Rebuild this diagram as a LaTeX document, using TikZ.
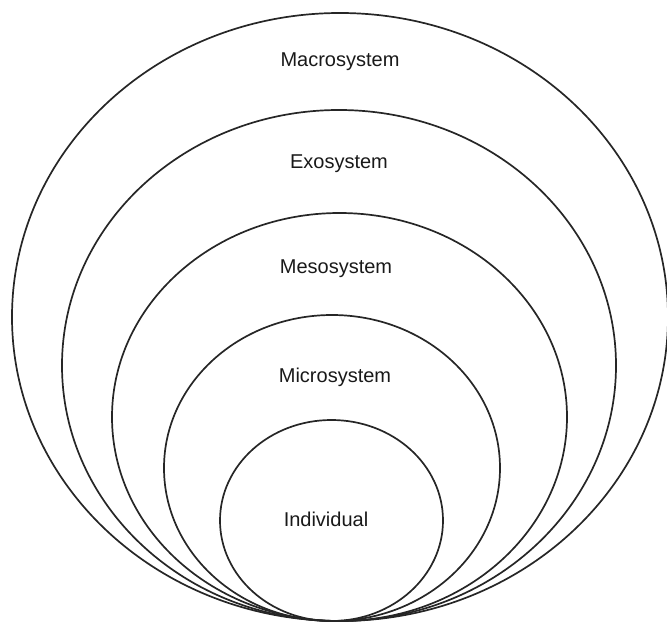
\documentclass[tikz,border=0pt]{standalone}
\usepackage{fontspec}
\setmainfont{Liberation Sans}
\usepackage{tikz}

\begin{document}
\begin{tikzpicture}[
  x=1pt,y=-1pt,
  ring/.style={draw=black!85,line width=1.7pt},
  lbl/.style={anchor=base,inner sep=0pt,text=black!90,
              font=\fontsize{20}{24}\selectfont}
]
\useasboundingbox (0,0) rectangle (667,623);
\foreach \cx/\cy/\rx/\ry in {340/317/328/304, 339/365.5/277/255.5,
    339.5/417/227.5/204, 332/468/168/153, 331.5/520.5/111.5/100.5}
  \draw[ring] (\cx,\cy) ellipse [x radius=\rx pt,y radius=\ry pt];
\node[lbl] (macro) at (340,67) {Macrosystem};
\node[lbl] (exo) at (339,169) {Exosystem};
\node[lbl] (meso) at (336,273) {Mesosystem};
\node[lbl] (micro) at (335,382) {Microsystem};
\node[lbl] (indiv) at (326,526) {Individual};
\end{tikzpicture}
\end{document}
